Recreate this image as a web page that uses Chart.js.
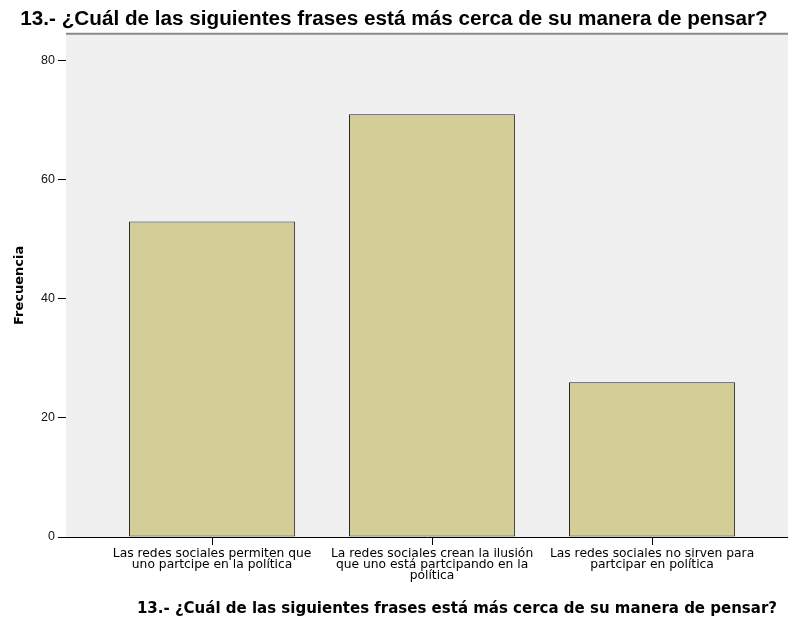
<!DOCTYPE html>
<html>
<head>
<meta charset="utf-8">
<script src="https://cdn.jsdelivr.net/npm/chart.js@4/dist/chart.umd.min.js"></script>
<style>
  html, body { margin: 0; padding: 0; background: #fff; }
  #wrap { width: 788px; height: 626px; }
</style>
</head>
<body>
<div id="wrap"><canvas id="c" width="788" height="626"></canvas></div>
<script>
  var TITLE = "13.- ¿Cuál de las siguientes frases está más cerca de su manera de pensar?";
  var Y_TITLE = "Frecuencia";
  // category labels, split the way the original wraps them
  var categories = [
    ["Las redes sociales permiten que", "uno partcipe en la política"],
    ["La redes sociales crean la ilusión", "que uno está partcipando en la", "política"],
    ["Las redes sociales no sirven para", "partcipar en política"]
  ];
  var positions = [1, 2, 3];
  var frequencies = [53, 71, 26];
  var yTicks = [0, 20, 40, 60, 80];

  var BAR = "#d3ce97", PLOT_BG = "#f0f0f0", INK = "#000";

  // grey plot background + top rule, and the x axis title under the labels
  var frame = {
    id: "frame",
    beforeDatasetsDraw: function (chart) {
      var a = chart.chartArea, ctx = chart.ctx;
      ctx.save();
      ctx.fillStyle = PLOT_BG;
      ctx.fillRect(a.left, a.top, a.right - a.left, a.bottom - a.top);
      ctx.strokeStyle = "#8a8a8a";
      ctx.lineWidth = 2;
      ctx.beginPath();
      ctx.moveTo(a.left, a.top);
      ctx.lineTo(a.right, a.top);
      ctx.stroke();
      ctx.restore();
    },
    afterDraw: function (chart) {
      var a = chart.chartArea, ctx = chart.ctx;
      ctx.save();
      ctx.font = "bold 15px 'DejaVu Sans'";
      ctx.fillStyle = INK;
      ctx.textAlign = "right";
      ctx.textBaseline = "middle";
      ctx.fillText(TITLE, a.right - 11, 609);
      ctx.restore();
    }
  };

  new Chart(document.getElementById("c"), {
    type: "bar",
    data: {
      datasets: [{
        data: positions.map(function (p, i) { return { x: p, y: frequencies[i] }; }),
        backgroundColor: BAR,
        borderColor: "#262626",
        borderWidth: 1,
        borderSkipped: false,
        barPercentage: 0.755,
        categoryPercentage: 1
      }]
    },
    plugins: [frame],
    options: {
      responsive: false, animation: false,
      layout: { padding: { left: 0, right: 0, top: 0, bottom: 0 } },
      plugins: {
        legend: { display: false },
        tooltip: { enabled: false },
        title: {
          display: true, text: TITLE, color: INK,
          font: { family: "'Liberation Sans', Arial", size: 20.7, weight: "bold" },
          padding: { top: 7, bottom: 2 }
        }
      },
      scales: {
        x: {
          type: "linear", min: 0.336, max: 3.618, offset: false,
          afterBuildTicks: function (s) { s.ticks = positions.map(function (v) { return { value: v }; }); },
          afterFit: function (s) { s.height = 89; },
          ticks: {
            color: INK, padding: 3, maxRotation: 0, autoSkip: false,
            font: { family: "'DejaVu Sans'", size: 12.3, lineHeight: 0.92 },
            callback: function (v) { return categories[positions.indexOf(v)]; }
          },
          grid: { drawOnChartArea: false, offset: false, tickLength: 8, color: INK },
          border: { color: INK, width: 1 }
        },
        y: {
          min: 0, max: 84.5,
          afterBuildTicks: function (s) { s.ticks = yTicks.map(function (v) { return { value: v }; }); },
          afterFit: function (s) { s.width = 66; },
          ticks: {
            color: "#111", padding: 3,
            font: { family: "'Liberation Sans', Arial", size: 12.5 }
          },
          grid: { drawOnChartArea: false, tickLength: 8, color: INK },
          border: { color: INK, width: 1 },
          title: {
            display: true, text: Y_TITLE, color: INK,
            font: { family: "'DejaVu Sans'", size: 13, weight: "bold" },
            padding: { top: 12, bottom: 0 }
          }
        }
      }
    }
  });
</script>
</body>
</html>
